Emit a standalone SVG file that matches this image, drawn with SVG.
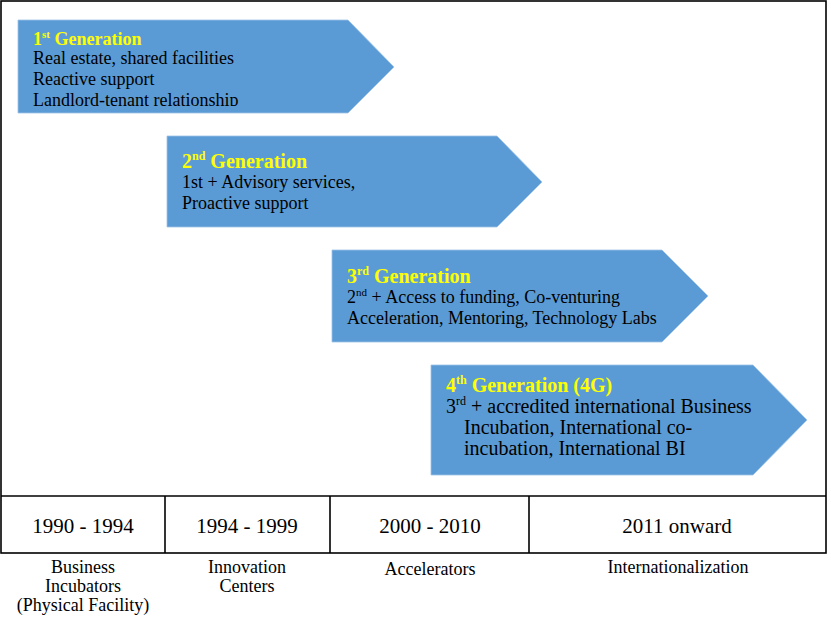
<svg xmlns="http://www.w3.org/2000/svg" width="831" height="627" viewBox="0 0 831 627">
<style>
.arrow{fill:#5B9BD5;stroke:#9DC3E6;stroke-width:0.8}
.title{font-family:"Liberation Serif","Times New Roman",serif;font-size:18px;font-weight:bold;fill:#FFFF00}
.body{font-family:"Liberation Serif","Times New Roman",serif;font-size:18px;fill:#000}
.big{font-size:20px}
.sup{font-size:11px}
.sup2{font-size:12px}
.frame{fill:none;stroke:#000;stroke-width:1.6}
.year{font-family:"Liberation Serif","Times New Roman",serif;font-size:21px;fill:#000;text-anchor:middle}
.lab{font-family:"Liberation Serif","Times New Roman",serif;font-size:18px;fill:#000;text-anchor:middle}
</style>
<defs>
<clipPath id="clip1"><rect x="18" y="20" width="376" height="86"/></clipPath>
</defs>
<rect x="0" y="0" width="831" height="627" fill="#fff"/>
<g id="frame">
<rect class="frame" x="1" y="1" width="825" height="552"/>
<line class="frame" x1="1" y1="496" x2="826" y2="496"/>
</g>
<g id="gen1">
<polygon class="arrow" points="18,20 348,20 394,67 348,113 18,113"/>
<g clip-path="url(#clip1)">
<text class="title" x="33" y="45">1<tspan class="sup" dy="-7">st</tspan><tspan dy="7"> Generation</tspan></text>
<text class="body" x="33" y="64">Real estate, shared facilities</text>
<text class="body" x="33" y="85">Reactive support</text>
<text class="body" x="33" y="106">Landlord-tenant relationship</text>
</g>
</g>
<g id="gen2">
<polygon class="arrow" points="167,136 497,136 542,182 497,227 167,227"/>
<text class="title big" x="182" y="168">2<tspan class="sup2" dy="-8">nd</tspan><tspan dy="8"> Generation</tspan></text>
<text class="body" x="182" y="188">1st + Advisory services,</text>
<text class="body" x="182" y="209">Proactive support</text>
</g>
<g id="gen3">
<polygon class="arrow" points="332,250 662,250 708,296 662,342 332,342"/>
<text class="title big" x="347" y="283">3<tspan class="sup2" dy="-8">rd</tspan><tspan dy="8"> Generation</tspan></text>
<text class="body" x="347" y="303">2<tspan class="sup" dy="-7">nd</tspan><tspan dy="7"> + Access to funding, Co-venturing</tspan></text>
<text class="body" x="347" y="324">Acceleration, Mentoring, Technology Labs</text>
</g>
<g id="gen4">
<polygon class="arrow" points="431,365 753,365 807,420 753,475 431,475"/>
<text class="title big" x="446" y="392">4<tspan class="sup2" dy="-8">th</tspan><tspan dy="8"> Generation (4G)</tspan></text>
<text class="body big" x="446" y="413">3<tspan class="sup2" dy="-8">rd</tspan><tspan dy="8"> + accredited international Business</tspan></text>
<text class="body big" x="464" y="434">Incubation, International co-</text>
<text class="body big" x="464" y="455">incubation, International BI</text>
</g>
<g id="timeline">
<line class="frame" x1="165" y1="496" x2="165" y2="553"/>
<line class="frame" x1="330" y1="496" x2="330" y2="553"/>
<line class="frame" x1="529" y1="496" x2="529" y2="553"/>
<text class="year" x="83" y="533">1990 - 1994</text>
<text class="year" x="247" y="533">1994 - 1999</text>
<text class="year" x="430" y="533">2000 - 2010</text>
<text class="year" x="677" y="533">2011 onward</text>
</g>
<g id="labels">
<text class="lab" x="83" y="573">Business</text>
<text class="lab" x="83" y="592">Incubators</text>
<text class="lab" x="83" y="611">(Physical Facility)</text>
<text class="lab" x="247" y="573">Innovation</text>
<text class="lab" x="247" y="592">Centers</text>
<text class="lab" x="430" y="575">Accelerators</text>
<text class="lab" x="678" y="573">Internationalization</text>
</g>
</svg>
